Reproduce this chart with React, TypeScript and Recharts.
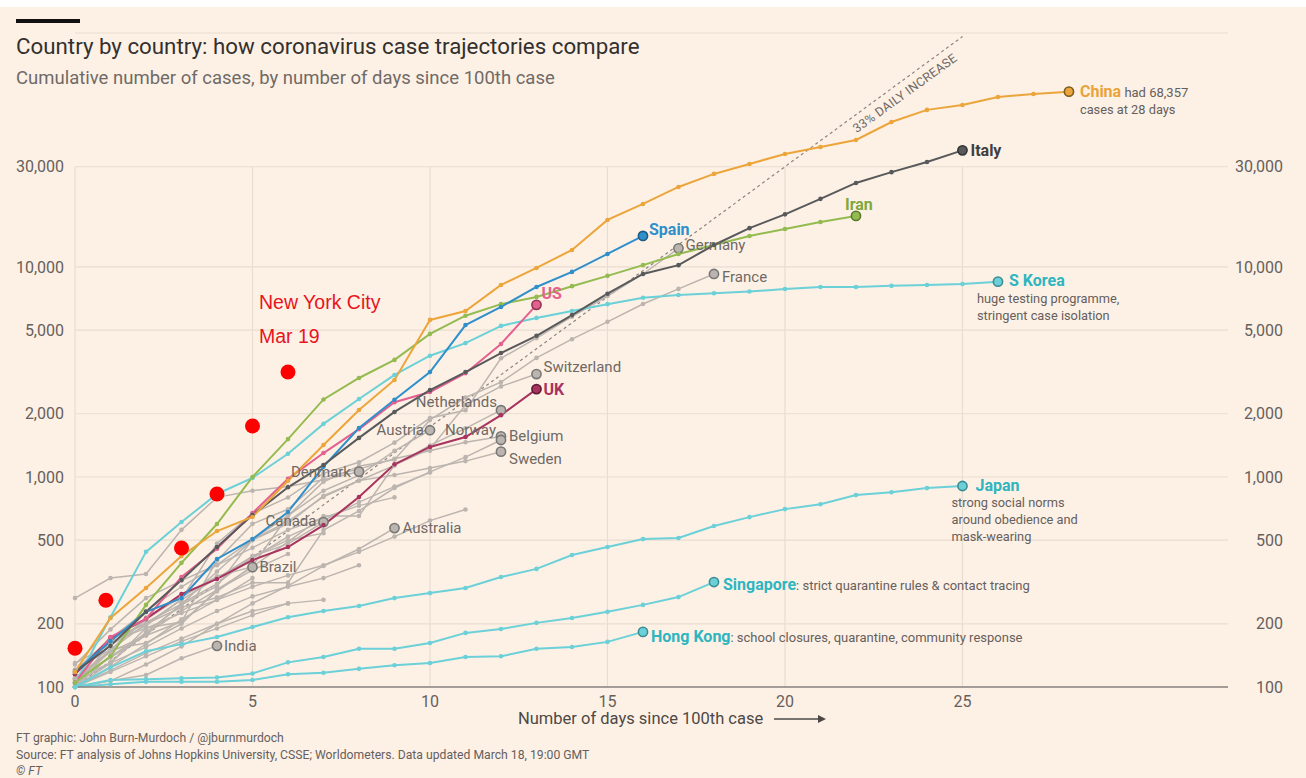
import React from 'react';
import { LineChart, Line, XAxis, YAxis, CartesianGrid, ReferenceLine } from 'recharts';

const FONT = 'Roboto, "Open Sans", sans-serif';

// cumulative cases; index in each array = days since 100th case
const CHINA = [118, 213, 296, 420, 553, 645, 960, 1420, 2085, 2897, 5595, 6170, 8210, 9890, 12050, 16740, 19950, 24040, 27730, 30940, 34520, 37260, 40250, 49000, 55960, 59080, 64500, 66650, 68357];
const ITALY = [118, 157, 228, 323, 464, 659, 893, 1140, 1535, 2040, 2590, 3160, 3890, 4700, 5900, 7460, 9260, 10200, 12720, 15300, 17800, 21100, 25120, 28280, 31620, 35900];
const IRAN = [105, 140, 246, 390, 597, 1000, 1515, 2340, 2960, 3610, 4800, 5860, 6650, 7200, 8100, 9070, 10200, 11530, 12720, 14050, 15170, 16360, 17500];
const SPAIN = [118, 165, 228, 265, 407, 506, 681, 1120, 1710, 2330, 3160, 5290, 6450, 8030, 9470, 11530, 14050];
const US = [105, 173, 211, 334, 455, 673, 980, 1300, 1690, 2270, 2540, 3120, 4300, 6600];
const UK = [115, 171, 211, 277, 327, 402, 464, 590, 802, 1150, 1390, 1550, 1970, 2620];
const SKOREA = [104, 215, 440, 610, 830, 990, 1290, 1790, 2350, 3060, 3780, 4340, 5240, 5720, 6170, 6650, 7130, 7350, 7500, 7640, 7850, 8030, 8030, 8130, 8200, 8300, 8510];
const JAPAN = [100, 124, 148, 160, 173, 193, 215, 230, 243, 265, 280, 296, 334, 365, 425, 464, 506, 512, 584, 644, 703, 742, 820, 846, 885, 906];
const SINGAPORE = [100, 108, 109, 110, 111, 116, 131, 139, 152, 152, 162, 181, 189, 202, 213, 228, 246, 268, 316];
const HONGKONG = [100, 103, 106, 106, 106, 108, 115, 117, 122, 127, 130, 139, 140, 152, 155, 164, 183];

const GERMANY = [130, 159, 196, 262, 482, 670, 799, 1040, 1176, 1457, 1908, 2078, 3675, 4585, 5795, 7272, 9257, 12260];
const FRANCE = [100, 130, 191, 204, 285, 377, 653, 949, 1126, 1209, 1870, 2390, 2830, 3690, 4530, 5480, 6660, 7860, 9260];
const SWITZERLAND = [110, 150, 214, 268, 337, 374, 491, 652, 652, 1139, 1359, 2200, 2700, 3090];
const NETHERLANDS = [128, 188, 265, 321, 382, 503, 614, 804, 959, 1135, 1413, 1705, 2080];
const AUSTRIA = [104, 131, 182, 246, 302, 504, 655, 860, 1018, 1332, 1670];
const NORWAY = [108, 147, 176, 205, 400, 598, 702, 996, 1090, 1221, 1333, 1463, 1560];
const BELGIUM = [109, 169, 200, 239, 267, 314, 314, 559, 689, 886, 1058, 1243, 1500];
const SWEDEN = [101, 161, 203, 248, 355, 500, 599, 814, 961, 1022, 1103, 1190, 1320];
const DENMARK = [265, 330, 345, 560, 800, 860, 900, 970, 1060];
const CANADA = [108, 138, 176, 250, 310, 420, 480, 610];
const AUSTRALIA = [100, 107, 128, 156, 200, 250, 303, 377, 454, 571];
const BRAZIL = [121, 151, 162, 200, 291, 372];
const INDIA = [100, 107, 114, 137, 157];

// unlabelled grey countries
const OTHERS = [
  [100, 140, 180, 230, 290, 360, 430],
  [110, 130, 155, 190, 230, 270, 300, 330, 380],
  [100, 120, 145, 170, 200, 230, 250, 260],
  [105, 150, 200, 260, 330, 410, 520, 620, 760, 900, 1050],
  [100, 125, 160, 210, 260, 330],
  [115, 165, 190, 225, 260, 300, 340, 380, 440, 520, 620, 700],
  [100, 118, 140, 165, 190, 220, 250],
  [120, 170, 230, 300, 380, 460, 560, 640, 730, 800],
  [100, 150, 210, 270, 330, 420, 500, 540],
];

// New York City, Mar 19 overlay
const NYC_DAYS = [0, 0.87, 3, 4, 5, 6];
const NYC_CASES = [153, 259, 459, 830, 1750, 3160];

// 33% daily increase guide
const GUIDE_DAYS = [0, 25];
const GUIDE_CASES = [100, 125000];

const Y_TICKS = [100, 200, 500, 1000, 2000, 5000, 10000, 30000];
const X_TICKS = [0, 5, 10, 15, 20, 25];

const GREY = '#bcb5af';
const GREY_TXT = '#6f6964';
const CYAN = '#6bd0d7';
const CYAN_TXT = '#2fb5bf';

const pts = (vals: number[]) => vals.map((cases, day) => ({ day, cases }));

type Lab = {
  text: string; color: string; bold?: boolean; size?: number; dx: number; dy: number;
  anchor?: 'start' | 'end'; extra?: string; notes?: string[]; ndx?: number; ndy?: number;
};

type S = { key: string; vals: number[]; color: string; dark: string; lab: Lab };

const GREY_SERIES: S[] = [
  { key: 'germany', vals: GERMANY, color: GREY, dark: '#777', lab: { text: 'Germany', color: GREY_TXT, dx: 7, dy: -4 } },
  { key: 'france', vals: FRANCE, color: GREY, dark: '#777', lab: { text: 'France', color: GREY_TXT, dx: 8, dy: 3 } },
  { key: 'switzerland', vals: SWITZERLAND, color: GREY, dark: '#777', lab: { text: 'Switzerland', color: GREY_TXT, dx: 7, dy: -7 } },
  { key: 'netherlands', vals: NETHERLANDS, color: GREY, dark: '#777', lab: { text: 'Netherlands', color: GREY_TXT, dx: -4, dy: -8, anchor: 'end' } },
  { key: 'austria', vals: AUSTRIA, color: GREY, dark: '#777', lab: { text: 'Austria', color: GREY_TXT, dx: -6, dy: 0, anchor: 'end' } },
  { key: 'norway', vals: NORWAY, color: GREY, dark: '#777', lab: { text: 'Norway', color: GREY_TXT, dx: -5, dy: -7, anchor: 'end' } },
  { key: 'belgium', vals: BELGIUM, color: GREY, dark: '#777', lab: { text: 'Belgium', color: GREY_TXT, dx: 8, dy: -4 } },
  { key: 'sweden', vals: SWEDEN, color: GREY, dark: '#777', lab: { text: 'Sweden', color: GREY_TXT, dx: 8, dy: 7 } },
  { key: 'denmark', vals: DENMARK, color: GREY, dark: '#777', lab: { text: 'Denmark', color: GREY_TXT, dx: -8, dy: 0, anchor: 'end' } },
  { key: 'canada', vals: CANADA, color: GREY, dark: '#777', lab: { text: 'Canada', color: GREY_TXT, dx: -7, dy: -1, anchor: 'end' } },
  { key: 'australia', vals: AUSTRALIA, color: GREY, dark: '#777', lab: { text: 'Australia', color: GREY_TXT, dx: 8, dy: 0 } },
  { key: 'brazil', vals: BRAZIL, color: GREY, dark: '#777', lab: { text: 'Brazil', color: GREY_TXT, dx: 7, dy: 0 } },
  { key: 'india', vals: INDIA, color: GREY, dark: '#777', lab: { text: 'India', color: GREY_TXT, dx: 7, dy: 0 } },
];

const MAIN_SERIES: S[] = [
  { key: 'hk', vals: HONGKONG, color: CYAN, dark: '#3a8d93', lab: { text: 'Hong Kong', color: CYAN_TXT, bold: true, dx: 8, dy: 5, extra: ': school closures, quarantine, community response' } },
  { key: 'singapore', vals: SINGAPORE, color: CYAN, dark: '#3a8d93', lab: { text: 'Singapore', color: CYAN_TXT, bold: true, dx: 9, dy: 2, extra: ': strict quarantine rules & contact tracing' } },
  { key: 'japan', vals: JAPAN, color: CYAN, dark: '#3a8d93', lab: { text: 'Japan', color: CYAN_TXT, bold: true, dx: 13, dy: -1, notes: ['strong social norms', 'around obedience and', 'mask-wearing'], ndx: -11, ndy: 17 } },
  { key: 'skorea', vals: SKOREA, color: CYAN, dark: '#3a8d93', lab: { text: 'S Korea', color: CYAN_TXT, bold: true, dx: 11, dy: -1, notes: ['huge testing programme,', 'stringent case isolation'], ndx: -21, ndy: 17 } },
  { key: 'uk', vals: UK, color: '#a8335f', dark: '#5e1a34', lab: { text: 'UK', color: '#a8335f', bold: true, dx: 7, dy: 0 } },
  { key: 'us', vals: US, color: '#e3608f', dark: '#8e3556', lab: { text: 'US', color: '#e3608f', bold: true, dx: 5, dy: -11 } },
  { key: 'iran', vals: IRAN, color: '#93bb4f', dark: '#5a7a2a', lab: { text: 'Iran', color: '#7fa83d', bold: true, dx: -11, dy: -12 } },
  { key: 'spain', vals: SPAIN, color: '#2f8fcb', dark: '#1b5a82', lab: { text: 'Spain', color: '#2f8fcb', bold: true, dx: 6, dy: -7 } },
  { key: 'italy', vals: ITALY, color: '#58595b', dark: '#333', lab: { text: 'Italy', color: '#3f3f40', bold: true, dx: 8, dy: 0 } },
  { key: 'china', vals: CHINA, color: '#eba53a', dark: '#7a5a20', lab: { text: 'China', color: '#e9a33a', bold: true, dx: 11, dy: 0, extra: ' had 68,357', notes: ['cases at 28 days'], ndx: 11, ndy: 18 } },
];

const endText = (lab: Lab, cx: number, cy: number) => {
  const size = lab.size ?? (lab.bold ? 16 : 15);
  return (
    <g>
      <text x={cx + lab.dx} y={cy + lab.dy} dy="0.35em" textAnchor={lab.anchor ?? 'start'}
        fontFamily={FONT} fontSize={size} fontWeight={lab.bold ? 700 : 400} fill={lab.color}>
        {lab.text}
        {lab.extra && <tspan fill="#66605c" fontWeight={400} fontSize={13}>{lab.extra}</tspan>}
      </text>
      {(lab.notes ?? []).map((n, i) => (
        <text key={n} x={cx + (lab.ndx ?? 0)} y={cy + (lab.ndy ?? 0) * (i + 1)} dy="0.35em"
          fontFamily={FONT} fontSize={12.8} fill="#66605c">{n}</text>
      ))}
    </g>
  );
};

const seriesDot = (s: S, withLabel: boolean) => (p: any) => {
  const { cx, cy, index } = p;
  if (cx == null || cy == null) return <g key={index} />;
  if (withLabel && index === s.vals.length - 1) {
    return (
      <g key={index}>
        <circle cx={cx} cy={cy} r={4.6} fill={s.color} stroke={s.dark} strokeWidth={1.6} />
        {endText(s.lab, cx, cy)}
      </g>
    );
  }
  return <circle key={index} cx={cx} cy={cy} r={2.3} fill={s.color} />;
};

const guideDot = (p: any) => {
  const { cx, cy, index } = p;
  if (index !== 1 || cx == null) return <g key={index} />;
  const tx = cx - 55, ty = cy + 60;
  return (
    <text key={index} x={tx} y={ty} textAnchor="middle" transform={`rotate(-36 ${tx} ${ty})`}
      fontFamily={FONT} fontSize={12.5} fill="#6f6964" letterSpacing={0.3}>33% DAILY INCREASE</text>
  );
};

const RightTick = (p: any) => (
  <text x={1283} y={p.y} dy="0.35em" textAnchor="end" fontFamily={FONT} fontSize={16} fill="#66605c">
    {Number(p.payload.value).toLocaleString('en-US')}
  </text>
);

export default function App() {
  const nyc = NYC_DAYS.map((day, i) => ({ day, cases: NYC_CASES[i] }));
  const guide = GUIDE_DAYS.map((day, i) => ({ day, cases: GUIDE_CASES[i] }));
  const txt: React.CSSProperties = { position: 'absolute', fontFamily: FONT, whiteSpace: 'nowrap' };
  return (
    <div style={{ position: 'relative', width: 1306, height: 778, background: '#fdf1e6', overflow: 'hidden' }}>
      <style>{'body{margin:0}'}</style>
      <div style={{ position: 'absolute', left: 0, top: 0, width: 1306, height: 7, background: '#fff' }} />
      <div style={{ position: 'absolute', left: 16, top: 19, width: 64, height: 4, background: '#111' }} />
      <div style={{ ...txt, left: 16, top: 33, fontSize: 22.3, color: '#33302e' }}>
        Country by country: how coronavirus case trajectories compare
      </div>
      <div style={{ ...txt, left: 16, top: 67, fontSize: 18.5, color: '#706a66' }}>
        Cumulative number of cases, by number of days since 100th case
      </div>

      <div style={{ position: 'absolute', left: 0, top: 0 }}>
        <LineChart width={1306} height={778} margin={{ top: 33, right: 0, bottom: 61, left: 15 }}>
          <CartesianGrid vertical={false} stroke="#e9ddd2" strokeWidth={1.2} />
          {X_TICKS.map((d) => (
            <ReferenceLine key={d} segment={[{ x: d, y: 100 }, { x: d, y: 30000 }]} stroke="#e9ddd2" strokeWidth={1.2} />
          ))}
          <XAxis dataKey="day" type="number" domain={[0, 32.48]} ticks={X_TICKS} tickLine={false}
            axisLine={{ stroke: '#8a8480', strokeWidth: 1.5 }} height={30} tickMargin={3}
            tick={{ fill: '#66605c', fontSize: 16, fontFamily: FONT }} />
          <YAxis type="number" scale="log" domain={[100, 130000]} ticks={Y_TICKS} width={60}
            tickLine={false} axisLine={false} tickMargin={5}
            tickFormatter={(v: number) => v.toLocaleString('en-US')}
            tick={{ fill: '#66605c', fontSize: 16, fontFamily: FONT }} />
          <YAxis yAxisId="right" orientation="right" type="number" scale="log" domain={[100, 130000]}
            ticks={Y_TICKS} width={78} tickLine={false} axisLine={false} tick={<RightTick />} />

          <Line yAxisId="right" data={guide} dataKey="cases" type="linear" stroke="#8b8480" strokeWidth={1.2}
            strokeDasharray="3 3" dot={guideDot} activeDot={false} isAnimationActive={false} />

          {OTHERS.map((vals, i) => (
            <Line key={`o${i}`} data={pts(vals)} dataKey="cases" type="linear" stroke={GREY} strokeWidth={1.4}
              dot={seriesDot({ key: `o${i}`, vals, color: GREY, dark: '#777', lab: { text: '', color: GREY, dx: 0, dy: 0 } }, false)}
              activeDot={false} isAnimationActive={false} />
          ))}
          {GREY_SERIES.map((s) => (
            <Line key={s.key} data={pts(s.vals)} dataKey="cases" type="linear" stroke={s.color} strokeWidth={1.5}
              dot={seriesDot(s, true)} activeDot={false} isAnimationActive={false} />
          ))}
          {MAIN_SERIES.map((s) => (
            <Line key={s.key} data={pts(s.vals)} dataKey="cases" type="linear" stroke={s.color} strokeWidth={2}
              dot={seriesDot(s, true)} activeDot={false} isAnimationActive={false} />
          ))}

          <Line data={nyc} dataKey="cases" type="linear" stroke="none" strokeWidth={0}
            dot={{ r: 7.5, fill: '#ff0000', stroke: 'none' }} activeDot={false} isAnimationActive={false} />
        </LineChart>
      </div>

      <div style={{ ...txt, left: 259, top: 291, fontSize: 19.5, color: '#e8141c', fontFamily: '"Liberation Sans", Arial, sans-serif' }}>New York City</div>
      <div style={{ ...txt, left: 259, top: 325, fontSize: 19.5, color: '#e8141c', fontFamily: '"Liberation Sans", Arial, sans-serif' }}>Mar 19</div>

      <div style={{ ...txt, left: 518, top: 710, fontSize: 16.5, lineHeight: '18px', color: '#4d4845' }}>Number of days since 100th case</div>
      <svg style={{ position: 'absolute', left: 774, top: 712 }} width={56} height={14}>
        <line x1={0} y1={7} x2={46} y2={7} stroke="#4d4845" strokeWidth={1.3} />
        <path d="M44 3 L52 7 L44 11 Z" fill="#4d4845" />
      </svg>

      <div style={{ ...txt, left: 16, top: 731, fontSize: 12.2, color: '#66605c' }}>FT graphic: John Burn-Murdoch / @jburnmurdoch</div>
      <div style={{ ...txt, left: 16, top: 748, fontSize: 12.2, color: '#66605c' }}>
        Source: FT analysis of Johns Hopkins University, CSSE; Worldometers. Data updated March 18, 19:00 GMT
      </div>
      <div style={{ ...txt, left: 16, top: 764, fontSize: 12.2, color: '#66605c', fontStyle: 'italic' }}>© FT</div>
    </div>
  );
}
